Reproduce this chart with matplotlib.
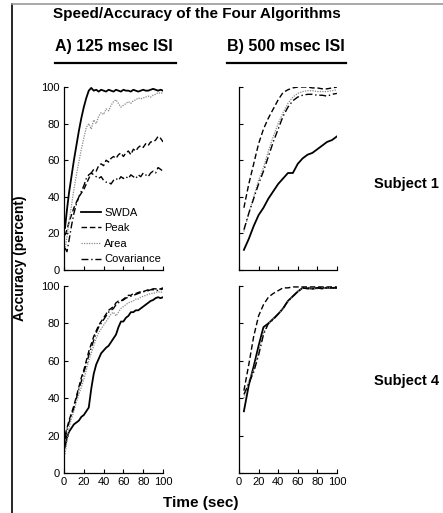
import matplotlib
matplotlib.use("Agg")
import matplotlib.pyplot as plt
from matplotlib.lines import Line2D

plt.rcParams['font.family'] = ['Liberation Sans', 'DejaVu Sans']

# time grids (sec)
tA = [1, 3, 5, 7.5, 10, 12.5, 15, 17.5, 20, 22.5, 25, 27.5, 30, 32.5, 35, 37.5, 40,
      42.5, 45, 47.5, 50, 52.5, 55, 57.5, 60, 62.5, 65, 67.5, 70, 72.5, 75, 77.5, 80,
      82.5, 85, 87.5, 90, 92.5, 95, 97.5, 100]
tB = [5, 10, 15, 20, 25, 30, 35, 40, 45, 50, 55, 60, 65, 70, 75, 80, 85, 90, 95, 100]

# A) 125 msec ISI, subject 1
swda_a1 = [23, 33, 42, 51, 60, 68, 76, 83, 89, 94, 98, 99.5, 98, 98.5, 97.5, 98.5, 98,
           97.5, 98.5, 98, 97.5, 98.5, 98, 97.5, 98.5, 98, 98, 97.5, 98.5, 98, 97.5, 98,
           98.5, 98, 98, 98.5, 99, 98.5, 98, 98.5, 98]
peak_a1 = [19, 22, 26, 30, 34, 37, 40, 42, 44, 47, 50, 53, 55, 54, 57, 58, 57, 60, 59,
           61, 62, 61, 63, 64, 62, 64, 65, 63, 66, 65, 67, 68, 67, 69, 68, 70, 70, 71,
           73, 72, 70]
area_a1 = [11, 18, 26, 35, 44, 52, 59, 66, 72, 78, 80, 77, 82, 80, 84, 86, 85, 88, 87,
           90, 92, 93, 91, 89, 90, 91, 92, 91, 92.5, 93, 94, 93.5, 94, 94.5, 95, 94.5,
           95.5, 96, 97, 96.5, 97]
cov_a1 = [12, 10, 16, 24, 31, 36, 40, 43, 46, 50, 52, 53, 52, 51, 50, 51, 49, 48, 48,
          47, 49, 50, 49, 51, 50, 51, 50, 52, 51, 50, 52, 51, 53, 52, 51, 53, 54, 53,
          56, 55, 54]

# A) 125 msec ISI, subject 4
swda_a4 = [14, 19, 22, 24, 26, 27, 28, 30, 31, 33, 35, 45, 53, 58, 61, 64, 65.5, 67, 68,
           70, 72, 74, 78, 81, 81, 83, 84, 86, 86, 87, 87, 88, 89, 90, 91, 92, 92.5,
           93.5, 94, 93.5, 94]
peak_a4 = [20, 24, 28, 32, 36, 41, 46, 51, 55, 60, 65, 69, 73, 76, 79, 81, 83, 85, 87,
           88, 89, 91, 92, 92, 93, 94, 95, 95, 96, 96, 96.5, 97, 97, 97.5, 98, 98, 98.5,
           98.5, 98, 98.5, 99]
area_a4 = [10, 17, 24, 29, 33, 38, 42, 46, 50, 55, 60, 64, 68, 72, 75, 77, 79, 81, 83,
           85, 86, 84, 86, 88, 89, 90, 91, 91.5, 92, 93, 93, 94, 94.5, 95, 95.5, 96, 96,
           96.5, 97, 96.5, 97]
cov_a4 = [18, 23, 27, 31, 35, 40, 45, 49, 54, 58, 63, 67, 71, 75, 78, 80, 82, 84, 86,
          87, 88, 90, 91, 92, 92.5, 93.5, 94, 94.5, 95, 95.5, 96, 96.5, 97, 97, 97.5,
          98, 98, 98, 97.5, 98, 98.5]

# B) 500 msec ISI, subject 1
swda_b1 = [11, 17, 24, 30, 34, 39, 43, 47, 50, 53, 53, 58, 61, 63, 64, 66, 68, 70, 71, 73]
peak_b1 = [34, 47, 58, 69, 77, 83, 88, 93, 97, 98.5, 99.5, 100, 100, 100, 99.5, 99.5, 99,
           99, 99.5, 100]
area_b1 = [21, 31, 40, 49, 56, 65, 73, 80, 86, 91, 94.5, 96.5, 97.5, 98, 98, 97.5, 97.5,
           97.5, 98, 98.5]
cov_b1 = [22, 31, 39, 47, 54, 62, 70, 77, 84, 89, 92.5, 94.5, 95.5, 96, 96, 95.5, 95.5,
          95, 96, 96.5]

# B) 500 msec ISI, subject 4
swda_b4 = [33, 47, 57, 68, 78, 80, 82.5, 85, 88, 92, 94.5, 97, 99, 99, 98.5, 99, 99, 99,
           99, 99]
peak_b4 = [44, 58, 73, 84, 90, 94, 96, 97.5, 99, 99, 99.5, 99.5, 99.5, 99.5, 99.5, 99.5,
           99.5, 99.5, 99.5, 99.5]
area_b4 = [40, 49, 55, 65, 75, 80, 82.5, 85, 88, 91.5, 94.5, 97, 99, 99, 98.5, 98.5, 99,
           99, 99, 99]
cov_b4 = [42, 48, 54, 63, 74, 80, 82, 85, 88, 92, 94.5, 97, 99, 98.5, 98.5, 99, 98.5, 99,
          99, 99]

ticks = [0, 20, 40, 60, 80, 100]
labels = ["SWDA", "Peak", "Area", "Covariance"]


def draw_panel(ax, t, swda, peak, area, cov, ylab, xlab):
    ax.plot(t, swda, color="black", lw=1.3, ls="-")
    ax.plot(t, peak, color="black", lw=1.0, ls=(0, (4, 2)))
    ax.plot(t, area, color="#8a8a8a", lw=0.9, ls=(0, (1, 1)))
    ax.plot(t, cov, color="black", lw=1.0, ls=(0, (5, 2, 1, 2)))
    ax.set_xlim(0, 100)
    ax.set_ylim(0, 100)
    ax.spines["top"].set_visible(False)
    ax.spines["right"].set_visible(False)
    for s in ("left", "bottom"):
        ax.spines[s].set_linewidth(0.9)
    ax.set_xticks(ticks)
    ax.set_yticks(ticks)
    ax.tick_params(direction="in", length=3, width=0.8, labelsize=8, pad=3)
    if not ylab:
        ax.set_yticklabels([])
    if not xlab:
        ax.set_xticklabels([])


fig = plt.figure(figsize=(4.43, 5.13), dpi=100)

axA1 = fig.add_axes([0.1445, 0.4737, 0.2235, 0.3567])
axB1 = fig.add_axes([0.5395, 0.4737, 0.221, 0.3567])
axA4 = fig.add_axes([0.1445, 0.078, 0.2235, 0.3645])
axB4 = fig.add_axes([0.5395, 0.078, 0.221, 0.3645])

draw_panel(axA1, tA, swda_a1, peak_a1, area_a1, cov_a1, True, False)
draw_panel(axB1, tB, swda_b1, peak_b1, area_b1, cov_b1, False, False)
draw_panel(axA4, tA, swda_a4, peak_a4, area_a4, cov_a4, True, True)
draw_panel(axB4, tB, swda_b4, peak_b4, area_b4, cov_b4, False, True)

axA1.legend(axA1.get_lines(), labels, loc="lower right", bbox_to_anchor=(1.06, -0.012),
            frameon=False, fontsize=8, handlelength=1.8, handletextpad=0.3,
            labelspacing=0.5, borderpad=0.2)

# texts
fig.text(53 / 443, 1 - 14 / 513, "Speed/Accuracy of the Four Algorithms",
         fontsize=11, fontweight="bold", ha="left", va="center")
fig.text(55 / 443, 1 - 46 / 513, "A) 125 msec ISI", fontsize=11.5, fontweight="bold",
         ha="left", va="center")
fig.text(227 / 443, 1 - 46 / 513, "B) 500 msec ISI", fontsize=11.5, fontweight="bold",
         ha="left", va="center")
fig.add_artist(Line2D([55 / 443, 176 / 443], [1 - 62.5 / 513] * 2, color="black", lw=1.6))
fig.add_artist(Line2D([227 / 443, 346 / 443], [1 - 62.5 / 513] * 2, color="black", lw=1.6))

fig.text(20 / 443, 1 - 258 / 513, "Accuracy (percent)", fontsize=10, fontweight="bold",
         rotation=90, ha="center", va="center")
fig.text(201 / 443, 1 - 503 / 513, "Time (sec)", fontsize=11, fontweight="bold",
         ha="center", va="center")
fig.text(374 / 443, 1 - 184 / 513, "Subject 1", fontsize=10.5, fontweight="bold",
         ha="left", va="center")
fig.text(374 / 443, 1 - 381 / 513, "Subject 4", fontsize=10.5, fontweight="bold",
         ha="left", va="center")

# scan border lines (left and top)
fig.add_artist(Line2D([12 / 443, 12 / 443], [0, 1 - 4 / 513], color="black", lw=1.2))
fig.add_artist(Line2D([12 / 443, 1], [1 - 4 / 513] * 2, color="#9a9a9a", lw=1.2))

fig.savefig("out.png", dpi=100)
